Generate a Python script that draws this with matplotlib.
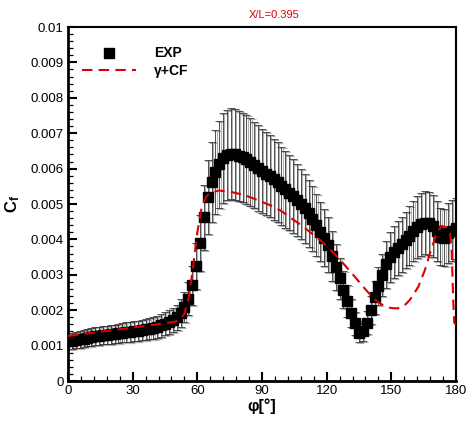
import matplotlib
matplotlib.use("Agg")
import matplotlib.pyplot as plt
import matplotlib.transforms as mtransforms
from matplotlib.lines import Line2D
from matplotlib.ticker import MultipleLocator
import numpy as np

plt.rcParams["font.family"] = ["Liberation Sans", "DejaVu Sans"]
plt.rcParams["mathtext.fontset"] = "custom"
plt.rcParams["mathtext.rm"] = "Liberation Sans"
plt.rcParams["mathtext.bf"] = "Liberation Sans:bold"

exp_phi = [0.0, 1.8, 3.6, 5.4, 7.2, 9.0, 10.8, 12.6, 14.4, 16.2,
           18.0, 19.8, 21.6, 23.4, 25.2, 27.0, 28.8, 30.6, 32.4, 34.2,
           36.0, 37.8, 39.6, 41.4, 43.2, 45.0, 46.8, 48.6, 50.4, 52.2,
           54.0, 55.8, 57.6, 59.4, 61.2, 63.0, 64.8, 66.6, 68.4, 70.2,
           72.0, 73.8, 75.6, 77.4, 79.2, 81.0, 82.8, 84.6, 86.4, 88.2,
           90.0, 91.8, 93.6, 95.4, 97.2, 99.0, 100.8, 102.6, 104.4, 106.2,
           108.0, 109.8, 111.6, 113.4, 115.2, 117.0, 118.8, 120.6, 122.4, 124.2,
           126.0, 127.8, 129.6, 131.4, 133.2, 135.0, 136.8, 138.6, 140.4, 142.2,
           144.0, 145.8, 147.6, 149.4, 151.2, 153.0, 154.8, 156.6, 158.4, 160.2,
           162.0, 163.8, 165.6, 167.4, 169.2, 171.0, 172.8, 174.6, 176.4, 178.2,
           180.0]
exp_cf = [0.00112, 0.00114, 0.00116, 0.00118, 0.00120, 0.00122, 0.00124, 0.00126, 0.00127, 0.00129,
          0.00130, 0.00132, 0.00133, 0.00135, 0.00136, 0.00138, 0.00139, 0.00141, 0.00142, 0.00144,
          0.00146, 0.00148, 0.00150, 0.00153, 0.00157, 0.00162, 0.00167, 0.00172, 0.00180, 0.00192,
          0.00210, 0.00232, 0.00270, 0.00325, 0.00390, 0.00462, 0.00520, 0.00562, 0.00590, 0.00612,
          0.00630, 0.00638, 0.00642, 0.00640, 0.00636, 0.00632, 0.00626, 0.00618, 0.00610, 0.00602,
          0.00594, 0.00586, 0.00578, 0.00570, 0.00562, 0.00552, 0.00542, 0.00532, 0.00522, 0.00511,
          0.00500, 0.00488, 0.00474, 0.00458, 0.00440, 0.00422, 0.00405, 0.00385, 0.00352, 0.00322,
          0.00290, 0.00258, 0.00225, 0.00192, 0.00163, 0.00137, 0.00142, 0.00165, 0.00200, 0.00236,
          0.00268, 0.00300, 0.00330, 0.00350, 0.00364, 0.00376, 0.00386, 0.00398, 0.00411, 0.00423,
          0.00435, 0.00443, 0.00447, 0.00445, 0.00437, 0.00424, 0.00408, 0.00405, 0.00418, 0.00425,
          0.00431]
exp_rel_err = 0.2  # +-20% uncertainty band

# gamma + CF simulation
cfd_phi = [0, 10, 20, 30, 40, 45, 50, 52, 54, 56, 58, 60, 62, 64, 66, 70, 75, 82, 88, 94,
           99, 103, 108, 112, 116.6, 120.7, 124.6, 127.7, 132.3, 137, 141.6, 145, 147.8, 150,
           153, 156, 158.6, 162.5, 165.6, 167.9, 171, 173.3, 175.6, 177.2, 178, 178.7, 179.2, 180]
cfd_cf = [0.00127, 0.00135, 0.00143, 0.00151, 0.00159, 0.00163, 0.00168, 0.00175, 0.00190, 0.00235,
          0.00320, 0.00420, 0.00490, 0.00520, 0.00532, 0.00538, 0.00535, 0.00525, 0.00511, 0.00496,
          0.00480, 0.00462, 0.00441, 0.00422, 0.00400, 0.00377, 0.00353, 0.00332, 0.00300, 0.00266,
          0.00234, 0.00218, 0.00210, 0.00206, 0.00205, 0.00213, 0.00229, 0.00266, 0.00314, 0.00360,
          0.00417, 0.00438, 0.00434, 0.00417, 0.00370, 0.00229, 0.00164, 0.00160]

fig = plt.figure(figsize=(4.68, 4.22), dpi=100)
ax = fig.add_axes([68 / 468, 1 - 381 / 422, 388 / 468, 354 / 422])

phi = np.array(exp_phi)
cf = np.array(exp_cf)
err = cf * exp_rel_err

# grey shadow of the error bars, a pixel off
shadow = mtransforms.offset_copy(ax.transData, fig=fig, x=1.2, y=-1.0, units="dots")
ax.errorbar(phi, cf, yerr=err, fmt="none", ecolor="#b0b0b0", elinewidth=0.8,
            capsize=3.2, capthick=0.8, transform=shadow, zorder=1)
ax.errorbar(phi, cf, yerr=err, fmt="none", ecolor="#333333", elinewidth=0.6,
            capsize=3.2, capthick=0.6, zorder=2)
ax.plot(phi, cf, "s", color="black", ms=6.5, zorder=3)
ax.plot(cfd_phi, cfd_cf, color="#dd0000", lw=1.5, linestyle=(0, (5, 3)), zorder=4)

ax.set_xlim(0, 180)
ax.set_ylim(0, 0.01)
ax.xaxis.set_major_locator(MultipleLocator(30))
ax.xaxis.set_minor_locator(MultipleLocator(6))
ax.yaxis.set_major_locator(MultipleLocator(0.001))
ax.yaxis.set_minor_locator(MultipleLocator(0.0002))
ax.set_yticks(np.arange(0, 0.0101, 0.001))
ax.set_yticklabels(["0", "0.001", "0.002", "0.003", "0.004", "0.005",
                    "0.006", "0.007", "0.008", "0.009", "0.01"])
ax.tick_params(which="both", direction="in", labelsize=9.5, top=False, right=False)
ax.tick_params(which="major", length=6.5, width=1.5, pad=3)
ax.tick_params(which="minor", length=3.5, width=0.9)
for side in ["left", "bottom"]:
    ax.spines[side].set_linewidth(2)
for side in ["top", "right"]:
    ax.spines[side].set_linewidth(1.5)

ax.set_xlabel("φ[°]", fontsize=11.5, fontweight="bold", labelpad=1)
ax.set_ylabel(r"$\mathbf{C_f}$", fontsize=12, labelpad=6)

fig.text(274 / 468, 1 - 15 / 422, "X/L=0.395", color="#dd0000", fontsize=8,
         ha="center", va="center")

handles = [Line2D([], [], marker="s", color="black", ls="none", ms=6.5),
           Line2D([], [], color="#dd0000", lw=1.5, linestyle=(0, (5, 3)))]
leg = ax.legend(handles, ["EXP", "γ+CF"], loc="upper left",
                bbox_to_anchor=(0.036, 0.945), borderaxespad=0, borderpad=0,
                frameon=False, handlelength=3.9, handletextpad=1.3,
                labelspacing=0.25, prop={"weight": "bold", "size": 10})

fig.savefig("out.png", dpi=100)
